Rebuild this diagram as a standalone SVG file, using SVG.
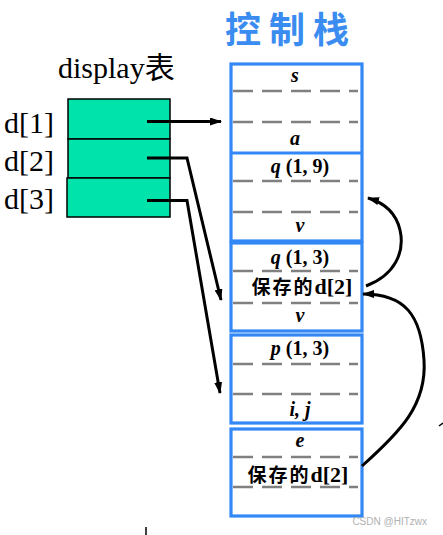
<svg xmlns="http://www.w3.org/2000/svg" width="443" height="535" viewBox="0 0 443 535">
<defs>
<style>
.frame{fill:#fff;stroke:#3388f5;stroke-width:3.2}
.dash{stroke:#808080;stroke-width:2.6;stroke-dasharray:20 9;fill:none}
.var{font-family:"Liberation Serif",serif;font-weight:bold;font-style:italic;font-size:20px;fill:#000;text-anchor:middle}
.num{font-style:normal}
.cjk{font-family:"Liberation Serif","Noto Sans CJK SC",serif;font-weight:bold;font-size:19px;fill:#000;text-anchor:middle}
.big{font-size:22px}
.lbl{font-family:"Liberation Serif","Noto Sans CJK SC",serif;font-size:30px;fill:#000}
.cell{fill:#00e3aa;stroke:#000;stroke-width:1.5}
.wire{fill:none;stroke:#000;stroke-width:3}
</style>
<marker id="ah" viewBox="0 0 12 8" refX="11" refY="4" markerWidth="12" markerHeight="8" markerUnits="userSpaceOnUse" orient="auto">
<path d="M0,0 L12,4 L0,8 Z" fill="#000"/>
</marker>
</defs>
<rect width="443" height="535" fill="#fff"/>

<text x="291" y="43" font-family="'Noto Sans CJK SC',sans-serif" font-weight="bold" font-size="36" fill="#3a8cf0" text-anchor="middle" letter-spacing="8">控制栈</text>
<text x="58" y="78" font-family="'Liberation Serif','Noto Sans CJK SC',serif" font-size="30" fill="#000">display表</text>

<g id="display">
<rect class="cell" x="68" y="99" width="102" height="40"/>
<rect class="cell" x="68" y="139" width="102" height="39"/>
<rect class="cell" x="67" y="178" width="103" height="39"/>
<text class="lbl" x="4" y="133">d[1]</text>
<text class="lbl" x="4" y="171">d[2]</text>
<text class="lbl" x="4" y="209">d[3]</text>
</g>

<g id="frame1">
<rect class="frame" x="231" y="64" width="131" height="177"/>
<line x1="231" y1="153" x2="362" y2="153" stroke="#3388f5" stroke-width="3.2"/>
<line class="dash" x1="233" y1="91" x2="358" y2="91"/>
<line class="dash" x1="233" y1="122" x2="358" y2="122"/>
<text class="var" x="295" y="82">s</text>
<text class="var" x="295" y="145">a</text>
<line class="dash" x1="233" y1="181" x2="358" y2="181"/>
<line class="dash" x1="233" y1="212" x2="358" y2="212"/>
<text class="var" x="300" y="173">q <tspan class="num">(1, 9)</tspan></text>
<text class="var" x="300" y="232">v</text>
</g>

<g id="frame2">
<rect class="frame" x="231" y="243" width="131" height="88"/>
<line class="dash" x1="233" y1="271" x2="358" y2="271"/>
<line class="dash" x1="233" y1="303" x2="358" y2="303"/>
<text class="var" x="300" y="264">q <tspan class="num">(1, 3)</tspan></text>
<text class="cjk" x="302" y="294"><tspan letter-spacing="2">保存的</tspan><tspan class="big">d[2]</tspan></text>
<text class="var" x="300" y="322">v</text>
</g>

<g id="frame3">
<rect class="frame" x="231" y="335" width="131" height="88"/>
<line class="dash" x1="233" y1="364" x2="358" y2="364"/>
<line class="dash" x1="233" y1="394" x2="358" y2="394"/>
<text class="var" x="300" y="355">p <tspan class="num">(1, 3)</tspan></text>
<text class="var" x="300" y="416">i, j</text>
</g>

<g id="frame4">
<rect class="frame" x="231" y="429" width="131" height="87"/>
<line class="dash" x1="233" y1="457" x2="358" y2="457"/>
<line class="dash" x1="233" y1="487" x2="358" y2="487"/>
<text class="var" x="300" y="447">e</text>
<text class="cjk" x="298" y="482"><tspan letter-spacing="2">保存的</tspan><tspan class="big">d[2]</tspan></text>
</g>

<g id="connectors">
<path class="wire" d="M147,121.5 H221" marker-end="url(#ah)"/>
<path class="wire" d="M147,158 H187 L221,300" marker-end="url(#ah)"/>
<path class="wire" d="M147,200.5 H187 L220,393" marker-end="url(#ah)"/>
<path class="wire" d="M366,286 C395,275 405,252 400,230 C396,213 385,203 368,198" marker-end="url(#ah)"/>
<path class="wire" d="M362,466 C400,432 427,405 424,360 C421,315 405,294 363,294" marker-end="url(#ah)"/>
<line x1="439" y1="426" x2="443" y2="423" stroke="#000" stroke-width="1.5"/>
<line x1="146" y1="527" x2="146" y2="535" stroke="#000" stroke-width="1.5"/>
</g>

<text x="427" y="525" font-family="'Liberation Sans',sans-serif" font-size="10" fill="#b0b0b0" text-anchor="end">CSDN @HITzwx</text>
</svg>
